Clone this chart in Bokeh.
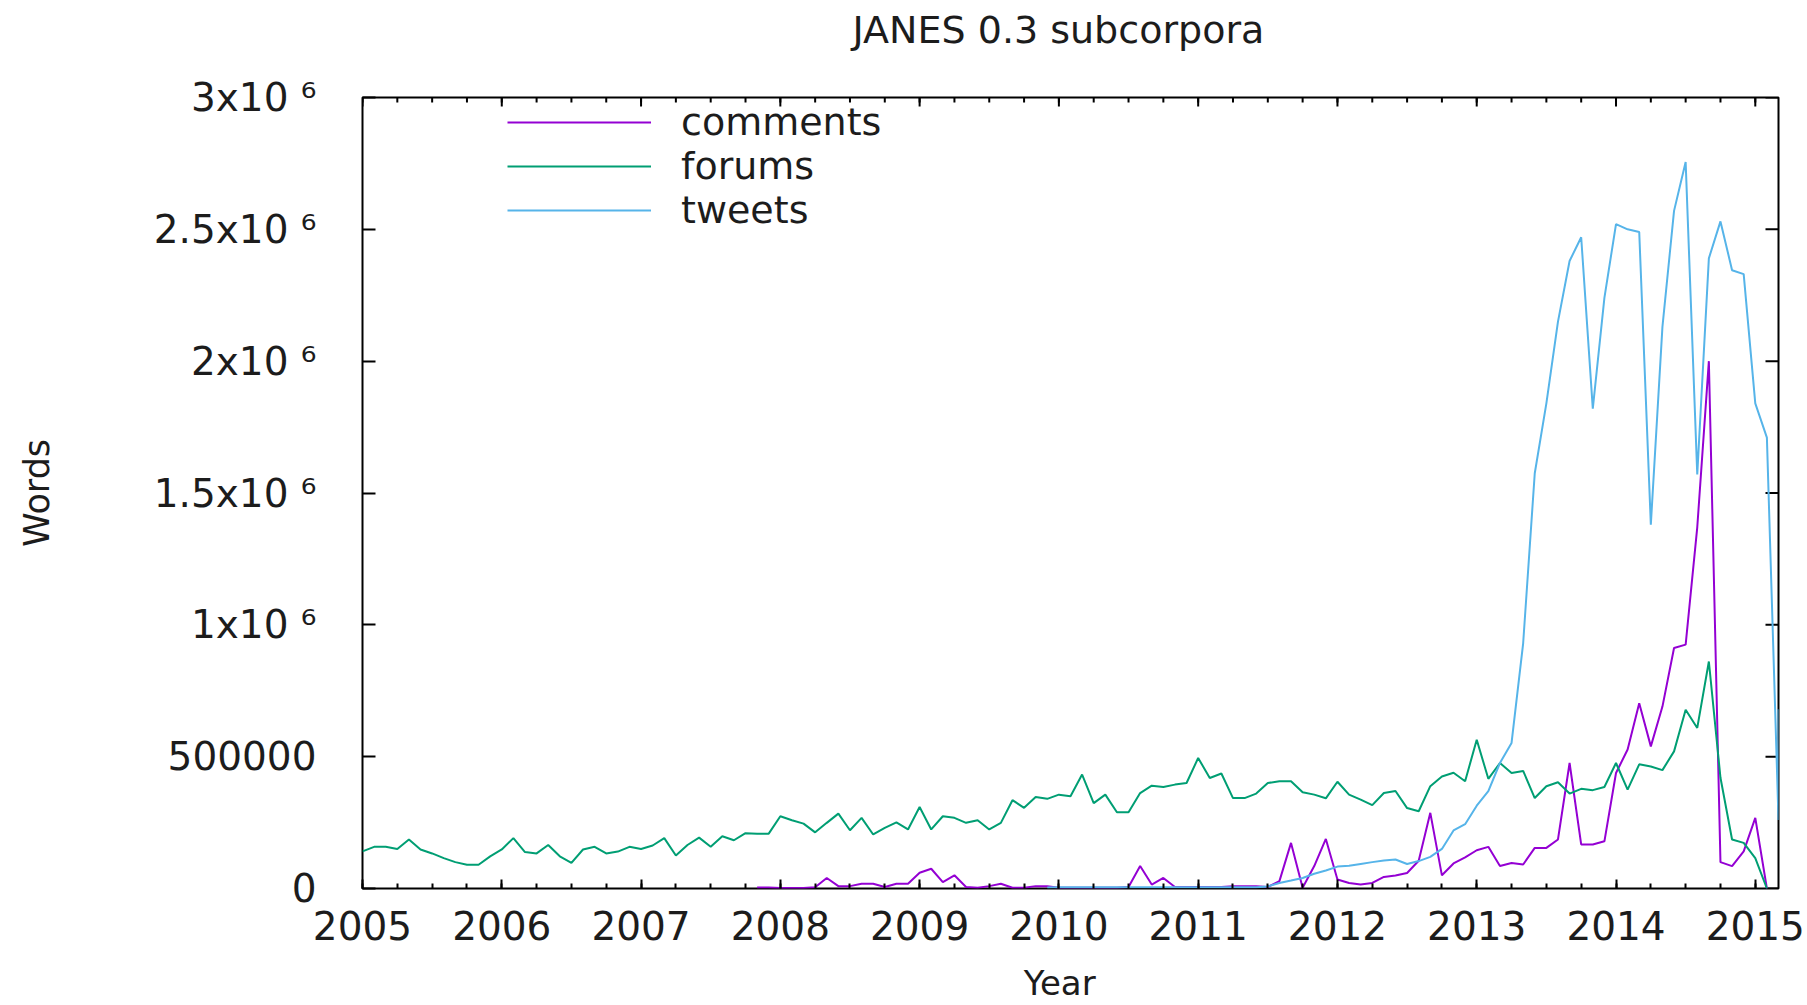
import math
from bokeh.plotting import figure
from bokeh.models import Range1d, FixedTicker, Legend, LegendItem
from bokeh.embed import file_html
from bokeh.resources import INLINE

# ---------------- data ----------------
year_ticks = list(range(2005, 2016))
y_ticks = [0, 500000, 1000000, 1500000, 2000000, 2500000, 3000000]
y_tick_labels = ["0", "500000", "1x10 \u2076", "1.5x10 \u2076", "2x10 \u2076", "2.5x10 \u2076", "3x10 \u2076"]

series_names = ["comments", "forums", "tweets"]

comments_start = "2007-11"
comments = [
    4000, 4000,
    2000, 2000, 2000, 5000, 40000, 9000, 9000, 18000, 18000, 6000, 18000, 18000,
    60000, 75000, 24000, 50000, 6000, 3000, 9000, 18000, 3000, 3000, 9000, 9000,
    3000, 3000, 3000, 3000, 3000, 3000, 6000, 85000, 15000, 40000, 6000, 6000,
    6000, 6000, 6000, 9000, 9000, 9000, 6000, 28000, 173000, 3000, 85000, 188000,
    34000, 21000, 15000, 21000, 44000, 49000, 59000, 105000, 287000, 50000, 95000, 118000,
    145000, 158000, 85000, 97000, 91000, 154000, 154000, 186000, 476000, 167000, 167000, 179000,
    438000, 527000, 703000, 539000, 690000, 912000, 925000, 1370000, 2000000, 100000, 85000, 141000,
    268000, 0,
]

forums_start = "2005-01"
forums = [
    141000, 158000, 158000, 150000, 186000, 148000, 133000, 115000, 100000, 90000, 90000, 122000,
    148000, 191000, 138000, 133000, 165000, 122000, 97000, 148000, 158000, 133000, 140000, 158000,
    150000, 163000, 191000, 125000, 165000, 193000, 158000, 198000, 183000, 210000, 208000, 208000,
    274000, 259000, 246000, 213000, 249000, 284000, 221000, 268000, 205000, 230000, 251000, 224000,
    309000, 224000, 274000, 268000, 249000, 259000, 224000, 249000, 335000, 306000, 347000, 340000,
    356000, 350000, 432000, 324000, 356000, 289000, 289000, 362000, 390000, 385000, 394000, 400000,
    495000, 419000, 436000, 343000, 343000, 360000, 400000, 407000, 407000, 365000, 356000, 342000,
    405000, 356000, 337000, 316000, 362000, 370000, 305000, 293000, 388000, 425000, 439000, 407000,
    564000, 416000, 476000, 438000, 446000, 343000, 388000, 403000, 360000, 378000, 373000, 385000,
    476000, 375000, 471000, 463000, 449000, 520000, 678000, 609000, 861000, 420000, 186000, 173000,
    115000, 0,
]

tweets_start = "2009-12"
tweets = [
    4000,
    5000, 5000, 5000, 5000, 5000, 5000, 5000, 5000, 5000, 5000, 5000, 5000,
    5000, 5000, 5000, 5000, 5000, 5000, 8000, 21000, 30000, 40000, 56000, 68000,
    83000, 86000, 93000, 100000, 106000, 110000, 93000, 104000, 120000, 150000, 220000, 244000,
    314000, 369000, 476000, 552000, 930000, 1575000, 1840000, 2150000, 2380000, 2470000, 1820000, 2240000,
    2520000, 2500000, 2490000, 1380000, 2130000, 2570000, 2755000, 1570000, 2390000, 2530000, 2345000, 2330000,
    1840000, 1710000, 260000,
]
tweets_final_reading = 680000  # last reading of the final month

colors = {"comments": "#9400D3", "forums": "#009E73", "tweets": "#56B4E9"}


def month_positions(start, n):
    y, m = (int(v) for v in start.split("-"))
    return [y + (m - 1 + i) / 12.0 for i in range(n)]


x_comments = month_positions(comments_start, len(comments))
x_forums = month_positions(forums_start, len(forums))
x_tweets = month_positions(tweets_start, len(tweets))
x_tweets = x_tweets + [x_tweets[-1]]
y_tweets = tweets + [tweets_final_reading]

x_start = year_ticks[0]
x_end = max(x_tweets[-1], x_forums[-1], x_comments[-1])
y_start, y_end = y_ticks[0], y_ticks[-1]
minor_x = [y + q / 4 for y in year_ticks for q in range(4)]

# ---------------- figure ----------------
FONT = "DejaVu Sans"
TXT = "#1c1c1c"
PAD = "\u00a0\u00a0"  # nudges centred texts slightly left, as in the original

p = figure(
    width=1807, height=1005,
    x_range=Range1d(x_start, x_end), y_range=Range1d(y_start, y_end),
    output_backend="svg", toolbar_location=None,
    min_border_left=362, min_border_right=29, min_border_top=97, min_border_bottom=116,
    background_fill_color="white", border_fill_color="white",
)
p.grid.visible = False
p.outline_line_color = "black"
p.outline_line_width = 2

# the trailing line break keeps the title up at the top edge of the page
p.title.text = "JANES 0.3 subcorpora" + PAD + "\n"
p.title.align = "center"
p.title.text_font = FONT
p.title.text_font_size = "38px"
p.title.text_font_style = "normal"
p.title.text_color = TXT
p.title.text_line_height = 1.0
p.title.standoff = 4

xticker = FixedTicker(ticks=year_ticks, minor_ticks=minor_x)
yticker = FixedTicker(ticks=y_ticks, minor_ticks=[])

xa = p.xaxis[0]
xa.ticker = xticker
xa.major_label_overrides = {y: str(y) for y in year_ticks}
ya = p.yaxis[0]
ya.ticker = yticker
ya.major_label_overrides = dict(zip(y_ticks, y_tick_labels))

for ax in (xa, ya):
    ax.axis_line_color = None
    ax.major_tick_out = 0
    ax.minor_tick_out = 0
    ax.major_tick_line_color = "black"
    ax.minor_tick_line_color = "black"
    ax.major_tick_line_width = 2
    ax.minor_tick_line_width = 2
    ax.major_label_text_font = FONT
    ax.major_label_text_font_size = "39px"
    ax.major_label_text_color = TXT
    ax.axis_label_text_font = FONT
    ax.axis_label_text_font_style = "normal"
    ax.axis_label_text_color = TXT

xa.major_tick_in = 9
xa.minor_tick_in = 5
xa.major_label_standoff = 22
xa.axis_label = "Year" + PAD
xa.axis_label_text_font_size = "34px"
xa.axis_label_standoff = 20

ya.major_tick_in = 13
ya.minor_tick_in = 0
ya.major_label_standoff = 46
ya.axis_label = "Words"
ya.axis_label_text_font_size = "35px"
ya.axis_label_standoff = 94

# mirrored ticks on the top and right borders
p.ray(x=year_ticks, y=y_end, length=9, angle=-math.pi / 2, length_units="screen",
      line_color="black", line_width=2)
p.ray(x=minor_x, y=y_end, length=5, angle=-math.pi / 2, length_units="screen",
      line_color="black", line_width=2)
p.ray(x=x_end, y=y_ticks, length=13, angle=math.pi, length_units="screen",
      line_color="black", line_width=2)

r_c = p.line(x_comments, comments, line_color=colors["comments"], line_width=2)
r_f = p.line(x_forums, forums, line_color=colors["forums"], line_width=2)
r_t = p.line(x_tweets, y_tweets, line_color=colors["tweets"], line_width=2)

legend = Legend(
    items=[LegendItem(label=n, renderers=[r]) for n, r in zip(series_names, [r_c, r_f, r_t])],
    location=(145, 656), orientation="vertical",
    glyph_width=144, glyph_height=44, label_height=44, label_standoff=30, spacing=0,
    padding=0, margin=0, border_line_color=None, background_fill_alpha=0,
    label_text_font=FONT, label_text_font_size="38px", label_text_color=TXT,
)
p.add_layout(legend)

open("out.html", "w").write(file_html(p, INLINE))
